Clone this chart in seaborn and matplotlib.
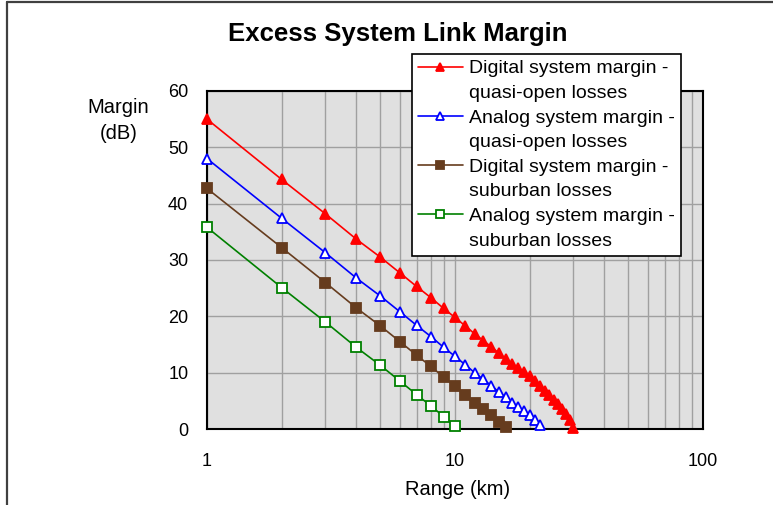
import numpy as np
import pandas as pd
import matplotlib
matplotlib.use("Agg")
import matplotlib.pyplot as plt
from matplotlib.lines import Line2D
import seaborn as sns

# ---- data ----
range_red = list(range(1, 31))
digital_open = [55.0, 44.3, 38.2, 33.7, 30.5, 27.7, 25.3, 23.3, 21.4, 19.8,
                18.3, 16.9, 15.7, 14.6, 13.5, 12.5, 11.6, 10.8, 10.1, 9.4,
                8.5, 7.6, 6.8, 6.0, 5.2, 4.4, 3.6, 2.7, 1.6, 0.2]
range_blue = list(range(1, 23))
analog_open = [48.0, 37.4, 31.3, 26.8, 23.6, 20.8, 18.4, 16.4, 14.5, 12.9,
               11.4, 10.0, 8.8, 7.7, 6.6, 5.6, 4.7, 3.9, 3.2, 2.5, 1.6, 0.7]
range_brown = list(range(1, 17))
digital_sub = [42.7, 32.2, 26.0, 21.5, 18.3, 15.5, 13.1, 11.1, 9.2, 7.6,
               6.1, 4.7, 3.5, 2.4, 1.3, 0.3]
range_green = list(range(1, 11))
analog_sub = [35.8, 25.1, 19.0, 14.5, 11.3, 8.5, 6.1, 4.1, 2.2, 0.6]

labels = [("Digital system margin -", "quasi-open losses"),
          ("Analog system margin -", "quasi-open losses"),
          ("Digital system margin -", "suburban losses"),
          ("Analog system margin -", "suburban losses")]
x_ticks = [1, 10, 100]
x_ticklabels = ["1", "10", "100"]
y_ticks = [0, 10, 20, 30, 40, 50, 60]

sns.set_style("white")
plt.rcParams['font.family'] = ['Liberation Sans', 'DejaVu Sans']
plt.rcParams['text.color'] = 'black'
plt.rcParams['axes.labelcolor'] = 'black'
plt.rcParams['xtick.color'] = 'black'
plt.rcParams['ytick.color'] = 'black'

fig = plt.figure(figsize=(7.73, 5.05), dpi=100)
ax = fig.add_axes([207/773, 1-429/505, (703-207)/773, (429-91)/505])
ax.set_facecolor("#E0E0E0")

series = [
    (range_red, digital_open, "#FF0000", "^", "#FF0000"),
    (range_blue, analog_open, "#0000FF", "^", "white"),
    (range_brown, digital_sub, "#663C1E", "s", "#663C1E"),
    (range_green, analog_sub, "#008000", "s", "white"),
]
handles = []
for (xs, ys, col, mk, mfc) in series:
    df = pd.DataFrame({"x": xs, "y": ys})
    sns.lineplot(data=df, x="x", y="y", ax=ax, color=col, marker=mk,
                 markerfacecolor=mfc, markeredgecolor=col, markersize=6.8,
                 markeredgewidth=1.3, linewidth=1.2, estimator=None, sort=False,
                 legend=False, zorder=5, clip_on=False)
    handles.append(Line2D([], [], color=col, marker=mk, markerfacecolor=mfc,
                          markeredgecolor=col, markersize=5.5, markeredgewidth=1.3,
                          linewidth=1.2))

ax.set_xscale("log")
ax.set_xlim(1, 100)
ax.set_ylim(0, 60)
ax.set_xticks(x_ticks)
ax.set_xticklabels(x_ticklabels)
ax.set_yticks(y_ticks)
ax.minorticks_on()
ax.yaxis.set_minor_locator(matplotlib.ticker.NullLocator())
ax.xaxis.set_minor_formatter(matplotlib.ticker.NullFormatter())
ax.grid(True, which="both", axis="x", color="#A0A0A0", linewidth=1)
ax.grid(True, which="major", axis="y", color="#A0A0A0", linewidth=1)
ax.set_axisbelow(True)
ax.tick_params(axis="both", which="both", length=0, labelsize=13, colors="black")
ax.tick_params(axis="x", pad=17)
ax.tick_params(axis="y", pad=13.5)
for s in ax.spines.values():
    s.set_color("black")
    s.set_linewidth(1.5)
    s.set_zorder(4)

ax.set_xlabel("Range (km)", fontsize=14.5, color="black")
ax.xaxis.set_label_coords(0.506, -0.178)
ax.xaxis.label.set_va("center")
ax.set_ylabel("Margin\n(dB)", fontsize=14.5, rotation=0, ha="center", va="center",
              linespacing=1.45, color="black")
ax.yaxis.set_label_coords(-0.179, 0.912)

blank = Line2D([], [], linestyle="none")
leg_handles, leg_labels = [], []
for h, (l1, l2) in zip(handles, labels):
    leg_handles += [h, blank]
    leg_labels += [l1, l2]
leg = fig.legend(leg_handles, leg_labels, loc="upper left",
                 bbox_to_anchor=(412/773, 1-54/505), fontsize=14,
                 frameon=True, fancybox=False, framealpha=1, edgecolor="black",
                 handlelength=2.3, handletextpad=0.35, labelspacing=0.36,
                 borderpad=0.3, borderaxespad=0)
leg.get_frame().set_linewidth(1.2)
leg.set_zorder(10)
for t in leg.get_texts():
    t.set_color("black")

fig.text(0.514, 1-34/505, "Excess System Link Margin", ha="center", va="center",
         fontsize=18.5, fontweight="bold", color="black")

# outer chart frame (partially visible)
fig.add_artist(Line2D([7.5/773, 7.5/773], [0, 1-2/505], transform=fig.transFigure,
                      color="#404040", linewidth=1.6))
fig.add_artist(Line2D([7.5/773, 1], [1-2/505, 1-2/505], transform=fig.transFigure,
                      color="#404040", linewidth=1.6))

fig.savefig("out.png", dpi=100)
